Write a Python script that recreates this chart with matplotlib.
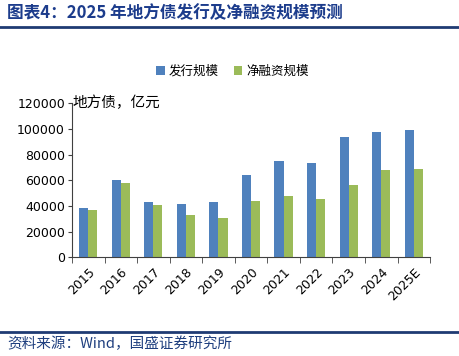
import numpy as np
import matplotlib.pyplot as plt
from matplotlib.lines import Line2D

plt.rcParams['font.family'] = ['Noto Sans CJK SC', 'DejaVu Sans']

# data
years = ['2015', '2016', '2017', '2018', '2019', '2020', '2021', '2022', '2023', '2024', '2025E']
issuance = [38200, 60200, 43300, 41500, 43300, 64100, 74800, 73500, 93500, 97600, 99000]
net_financing = [36600, 58100, 41000, 33000, 30400, 43600, 47800, 45400, 56300, 67800, 68800]

blue = '#4F81BD'
green = '#9BBB59'
navy = '#1F3B73'

fig = plt.figure(figsize=(4.6, 3.56), dpi=100)
ax = fig.add_axes([0.1565, 0.277, 0.7785, 0.433])

x = np.arange(len(years))
w = 0.28
ax.bar(x - w / 2, issuance, w, color=blue, label='发行规模')
ax.bar(x + w / 2, net_financing, w, color=green, label='净融资规模')

ax.set_xlim(-0.5, len(years) - 0.5)
ax.set_ylim(0, 120000)
ax.set_yticks(np.arange(0, 120001, 20000))
ax.set_yticklabels([str(v) for v in range(0, 120001, 20000)], family='DejaVu Sans', fontsize=9)

# category labels at centres, tick marks on the boundaries
ax.set_xticks(x)
ax.set_xticklabels(years, rotation=45, ha='right', rotation_mode='anchor',
                   family='DejaVu Sans', fontsize=9)
ax.tick_params(axis='x', which='major', length=0, pad=6)
ax.set_xticks(np.arange(-0.5, len(years), 1), minor=True)
ax.tick_params(axis='x', which='minor', length=4, direction='out', color='#404040')
ax.tick_params(axis='y', length=3, direction='out', color='#404040', pad=2)

for s in ['top', 'right']:
    ax.spines[s].set_visible(False)
for s in ['left', 'bottom']:
    ax.spines[s].set_color('#404040')

ax.text(0.002, 1.0, '地方债，亿元', transform=ax.transAxes, fontsize=10.5,
        va='center', ha='left')

fig.legend(loc='center', bbox_to_anchor=(0.505, 0.8), ncol=2, frameon=False,
           fontsize=9, handlelength=0.7, handleheight=0.7, handletextpad=0.3,
           columnspacing=1.2)

# header and footer
fig.text(0.015, 0.963, '图表4：2025 年地方债发行及净融资规模预测', fontsize=12,
         fontweight='bold', color='#1C3C8C', va='center', ha='left')
fig.add_artist(Line2D([0, 1], [0.925, 0.925], color=navy, lw=2))
fig.add_artist(Line2D([0, 1], [0.068, 0.068], color=navy, lw=2))
fig.text(0.015, 0.035, '资料来源：Wind，国盛证券研究所', fontsize=10.5,
         color='#1F3F7F', va='center', ha='left')

fig.savefig('out.png', dpi=100)
